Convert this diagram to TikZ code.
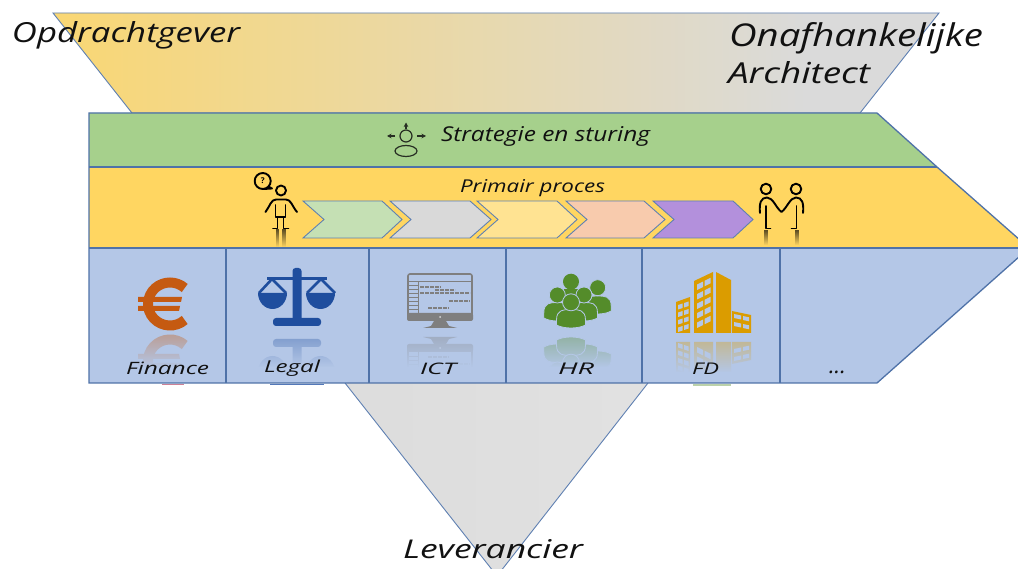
\documentclass[tikz,border=0pt]{standalone}
\usepackage{graphicx}
\usepackage{fontspec}
\setmainfont{Open Sans}
\usetikzlibrary{fadings,arrows.meta}
\definecolor{bordc}{HTML}{4F72A8}
\definecolor{edgec}{HTML}{5F80B2}
\definecolor{greenb}{HTML}{A6D08C}
\definecolor{yellowb}{HTML}{FFD661}
\definecolor{blueb}{HTML}{B4C7E7}
\definecolor{eurc}{HTML}{C55A11}
\definecolor{lawc}{HTML}{1F4E9E}
\definecolor{monc}{HTML}{7F7F7F}
\definecolor{hrc}{HTML}{548C2A}
\definecolor{fdc}{HTML}{DB9C00}
\definecolor{inkc}{HTML}{111111}
\pgfdeclarehorizontalshading{topgrad}{100bp}{rgb(0bp)=(1,.84,.38);rgb(27bp)=(1,.84,.38);rgb(62bp)=(.855,.855,.855);rgb(100bp)=(.855,.855,.855)}
\pgfdeclarehorizontalshading{botgrad}{100bp}{rgb(0bp)=(.875,.85,.78);rgb(36bp)=(.875,.85,.78);rgb(44bp)=(.865,.865,.865);rgb(62bp)=(.89,.89,.89);rgb(100bp)=(.89,.89,.89)}
\tikzfading[name=reflfade, top color=transparent!40, bottom color=transparent!0]
\tikzfading[name=legfade, top color=transparent!35, bottom color=transparent!100]
\newcommand{\fitw}[3]{\resizebox{#1pt}{#2pt}{\itshape #3}}
\tikzset{
  lab/.style={anchor=base west,inner sep=0pt,outer sep=0pt,text=inkc},
  chev/.style={draw=edgec,line width=.9pt},
  ico/.style={draw=black,line width=1.9pt,line cap=round,line join=round},
  band/.style={draw=bordc,line width=1.3pt,line join=miter},
  win/.style={fill=blueb,draw=none}
}
% icons
\newcommand{\euroicon}{%
  \draw[eurc,line width=10pt] (170,304) ++(48:22 and 21.5) arc[start angle=48,end angle=312,x radius=22,y radius=21.5];
  \fill[eurc] (138,297) -- (182,297) -- (181,302) -- (138,302) -- cycle;
  \fill[eurc] (138,306) -- (180,306) -- (179,311) -- (138,311) -- cycle;
}
\newcommand{\lawicon}{%
  \fill[lawc,rounded corners=3pt] (292.5,268) rectangle (301.5,322);
  \fill[lawc,rounded corners=3pt] (273,318) rectangle (321,326);
  \draw[lawc,line width=3pt] (267,279) -- (327,279);
  \draw[lawc,line width=2.6pt,line join=round] (259,293) -- (272,279) -- (286,293);
  \draw[lawc,line width=2.6pt,line join=round] (307,293) -- (321,279) -- (335,293);
  \fill[lawc] (258,293) -- (287,293) arc[start angle=0,end angle=180,x radius=14.5,y radius=16] -- cycle;
  \fill[lawc] (306,293) -- (335,293) arc[start angle=0,end angle=180,x radius=14.5,y radius=16] -- cycle;
}
\newcommand{\monicon}{%
  \draw[monc,line width=1.6pt,rounded corners=2pt] (408,274) rectangle (472,318);
  \fill[monc,rounded corners=2pt] (407,313) rectangle (473,321);
  \fill[white!70!monc] (440,317) circle (1pt);
  \fill[monc] (434,321) -- (446,321) -- (449,326) -- (457,328) -- (423,328) -- (431,326) -- cycle;
  \draw[monc,line width=.8pt] (408,281.5) -- (472,281.5);
  \draw[monc,line width=.8pt] (418,281.5) -- (418,313);
  \foreach \yy in {285,289,293,297,301,305,309}{\draw[monc,line width=.6pt] (409,\yy) -- (418,\yy);}
  \begin{scope}[monc,line width=2pt,dash pattern=on 4pt off 1pt]
    \draw (420,287) -- (441,287);
    \draw (435,290.5) -- (455,290.5);
    \draw (420,293.5) -- (470,293.5);
    \draw (449,301) -- (470,301);
    \draw (428,308) -- (449,308);
  \end{scope}
}
\newcommand{\hrperson}[6]{% head x, head y, r, body half width, body top, bottom
  \fill[hrc,draw=blueb,line width=.8pt] (#1-#4,#6-3) -- (#1-#4,#6-8)
     .. controls (#1-#4,#5) and (#1-#4*.5,#5) .. (#1,#5)
     .. controls (#1+#4*.5,#5) and (#1+#4,#5) .. (#1+#4,#6-8) -- (#1+#4,#6-3)
     .. controls (#1+#4*.5,#6+1) and (#1-#4*.5,#6+1) .. cycle;
  \fill[hrc,draw=blueb,line width=.8pt] (#1,#2) circle (#3);
}
\newcommand{\hricon}{%
  \fill[hrc] (564,289) rectangle (578,296);
  \fill[hrc] (571,281.7) circle (8);
  \hrperson{597.7}{287.7}{8}{13.5}{296}{314}
  \hrperson{557.3}{295}{8}{13.5}{302.5}{321}
  \hrperson{584}{295}{8}{13.5}{302.5}{321}
  \hrperson{571}{302.3}{8.5}{14.5}{309.5}{328}
}
\newcommand{\fdicon}{%
  \fill[fdc] (694,281) -- (713,272) -- (713,333) -- (694,333) -- cycle;
  \fill[fdc] (716,272) -- (731,280) -- (731,333) -- (716,333) -- cycle;
  \fill[fdc] (676,302) -- (690,297) -- (690,333) -- (676,333) -- cycle;
  \fill[fdc] (732,311) -- (751,315) -- (751,333) -- (732,333) -- cycle;
  % windows of the tower
  \foreach \a in {0,1,2,3,4}{
    \fill[win] (697,{284.5+\a*9.5}) -- (703,{281.5+\a*9.5}) -- (703,{287+\a*9.5}) -- (697,{290+\a*9.5}) -- cycle;
    \fill[win] (704.5,{280.8+\a*9.5}) -- (710.5,{277.8+\a*9.5}) -- (710.5,{283.3+\a*9.5}) -- (704.5,{286.3+\a*9.5}) -- cycle;
  }
  \foreach \a in {0,1,2,3}{
    \fill[win] (678,{305+\a*7.5}) -- (682.5,{303.5+\a*7.5}) -- (682.5,{308+\a*7.5}) -- (678,{309.5+\a*7.5}) -- cycle;
    \fill[win] (684,{303+\a*7.5}) -- (688.5,{301.5+\a*7.5}) -- (688.5,{306+\a*7.5}) -- (684,{307.5+\a*7.5}) -- cycle;
  }
  \foreach \a in {0,1}{
    \fill[win] (734,{314+\a*8}) -- (741,{315.5+\a*8}) -- (741,{319.5+\a*8}) -- (734,{318+\a*8}) -- cycle;
    \fill[win] (743,{316+\a*8}) -- (749,{317.3+\a*8}) -- (749,{321.3+\a*8}) -- (743,{320+\a*8}) -- cycle;
  }
}
% #1 icon macro, #2 mirror y, #3 left, #4 right
\newcommand{\reflected}[4]{%
  \begin{scope}
    \clip (#3,#2) rectangle (#4,#2+36);
    \begin{scope}[shift={(0,2*#2)},yscale=-1]
      #1
    \end{scope}
  \end{scope}
  \fill[blueb,path fading=reflfade] (#3-1,#2-.5) rectangle (#4+1,#2+35);
  \fill[blueb] (#3-1,#2+34.5) rectangle (#4+1,#2+37);
}
\begin{document}
\begin{tikzpicture}[x=1pt,y=-1pt]
\useasboundingbox (0,0) rectangle (1018,569);
\clip (0,0) rectangle (1018,569);
\fill[white] (0,0) rectangle (1018,569);

% upper funnel
\begin{scope}
  \clip (53,13) -- (939,13) -- (860,113) -- (132,113) -- cycle;
  \shade[shading=topgrad,rotate around={-25:(496,63)}] (53,-500) rectangle (939,600);
\end{scope}
\draw[edgec,line width=.9pt,line join=miter] (53,13) -- (939,13) -- (860,113) -- (132,113) -- cycle;

% lower funnel
\begin{scope}
  \clip (345,383) -- (648,383) -- (497,576) -- cycle;
  \shade[shading=botgrad,rotate around={-35:(497,480)}] (100,100) rectangle (900,900);
\end{scope}
\draw[edgec,line width=.9pt] (345,383) -- (497,576) -- (648,383);

% stray traces below the band
\draw[red!35!blueb,line width=1pt] (162,384.5) -- (184,384.5);
\draw[lawc!65!blueb,line width=1pt] (270,384.5) -- (324,384.5);
\draw[hrc!40!white,line width=1.5pt] (693,385) -- (731,385);

% band rows
\fill[blueb] (89,248) -- (1029,248) -- (877,383) -- (89,383) -- cycle;
\fill[yellowb] (89,167) -- (937,167) -- (1029,248) -- (89,248) -- cycle;
\fill[greenb] (89,113) -- (877,113) -- (937,167) -- (89,167) -- cycle;

% icons with their reflections
\reflected{\euroicon}{332.5}{130}{195}
\reflected{\lawicon}{332.5}{250}{345}
\reflected{\monicon}{332.5}{400}{480}
\reflected{\hricon}{332.5}{540}{615}
\reflected{\fdicon}{337.5}{670}{756}
\euroicon
\lawicon
\monicon
\hricon
\fdicon

% band outlines
\draw[band] (89,113) -- (877,113) -- (937,167) -- (1029,248) -- (877,383) -- (89,383) -- cycle;
\draw[band] (89,167) -- (937,167);
\draw[band] (89,248) -- (1029,248);
\foreach \xx in {226,369,506,642,780}{\draw[band] (\xx,248) -- (\xx,383);}

% chevrons
\draw[chev,fill={rgb,255:red,197;green,224;blue,180}] (303,201) -- (382,201) -- (402,219.5) -- (382,238) -- (303,238) -- (324,219.5) -- cycle;
\draw[chev,fill={rgb,255:red,217;green,217;blue,217}] (390,201) -- (470,201) -- (491,219.5) -- (470,238) -- (390,238) -- (411,219.5) -- cycle;
\draw[chev,fill={rgb,255:red,255;green,227;blue,146}] (477,201) -- (557,201) -- (577,219.5) -- (557,238) -- (477,238) -- (498,219.5) -- cycle;
\draw[chev,fill={rgb,255:red,248;green,203;blue,173}] (566,201) -- (644,201) -- (665,219.5) -- (644,238) -- (566,238) -- (587,219.5) -- cycle;
\draw[chev,fill={rgb,255:red,179;green,144;blue,220}] (653,201) -- (733,201) -- (753,219.5) -- (733,238) -- (653,238) -- (674,219.5) -- cycle;

% strategy icon
\begin{scope}[draw=inkc!85!greenb,line width=1.2pt]
  \draw (406,136) circle (6);
  \draw (406,151) ellipse (11 and 5.5);
  \draw[-{Stealth[length=4.5pt,width=4.5pt]}] (395,136) -- (387,136);
  \draw[-{Stealth[length=4.5pt,width=4.5pt]}] (417,136) -- (426,136);
  \draw[-{Stealth[length=4.5pt,width=4.5pt]}] (406,129) -- (406,122.5);
\end{scope}

% person with a question
\fill[black,path fading=legfade] (275.5,229) rectangle (279,247);
\fill[black,path fading=legfade] (282,229) rectangle (285.5,247);
\draw[ico] (281,190.5) circle (5);
\draw[ico] (265.5,212) .. controls (270,206) and (271,199.5) .. (276,199.5) -- (286,199.5) .. controls (291,199.5) and (292,206) .. (297,212);
\draw[ico] (275.5,205) -- (275.5,217) -- (285.5,217) -- (285.5,205);
\draw[ico] (277.5,217) -- (277.5,228.5) -- (273,228.5);
\draw[ico] (283.5,217) -- (283.5,228.5) -- (288.5,228.5);
\draw[ico] (262.7,181) circle (8);
\draw[ico] (268.5,186.5) -- (272,188.5) -- (264,189);
\node[inner sep=0pt,font=\bfseries\footnotesize] (ask) at (262.7,181) {?};

% pair holding hands
\fill[black,path fading=legfade] (764,230) rectangle (768,245);
\fill[black,path fading=legfade] (794.5,230) rectangle (798.5,245);
\draw[ico] (766,189) circle (5.3);
\draw[ico] (796,189) circle (5.3);
\draw[ico] (760,213) .. controls (759,203) and (761,197.5) .. (767,197.5) .. controls (773,197.5) and (776,208) .. (781.5,212) .. controls (787,208) and (790,197.5) .. (796,197.5) .. controls (802,197.5) and (804,203) .. (803,213);
\draw[ico] (766,206) -- (766,228.5) -- (770.5,228.5);
\draw[ico] (796.5,206) -- (796.5,228.5) -- (791.5,228.5);

% labels
\node[lab] (opdr) at (12,43) {\fitw{228}{21}{Opdrachtgever}};
\node[lab] (onaf) at (729,47) {\fitw{254}{24}{Onafhankelijke}};
\node[lab] (arch) at (728,84) {\fitw{142}{22}{Architect}};
\node[lab] (strat) at (441,142) {\fitw{209}{15}{Strategie en sturing}};
\node[lab] (prim) at (460,193) {\fitw{145}{13}{Primair proces}};
\node[lab] (fin) at (126,374) {\fitw{83}{12.5}{Finance}};
\node[lab] (leg) at (264,373) {\fitw{56}{12.5}{Legal}};
\node[lab] (ict) at (420,374) {\fitw{36}{11.5}{ICT}};
\node[lab] (hr) at (558,374) {\fitw{36}{11.5}{HR}};
\node[lab] (fd) at (692,374) {\fitw{27}{11.5}{FD}};
\node[lab] (more) at (829,374) {\fitw{17}{2.5}{...}};
\node[lab] (lev) at (403,558) {\fitw{180}{19}{Leverancier}};
\end{tikzpicture}
\end{document}
